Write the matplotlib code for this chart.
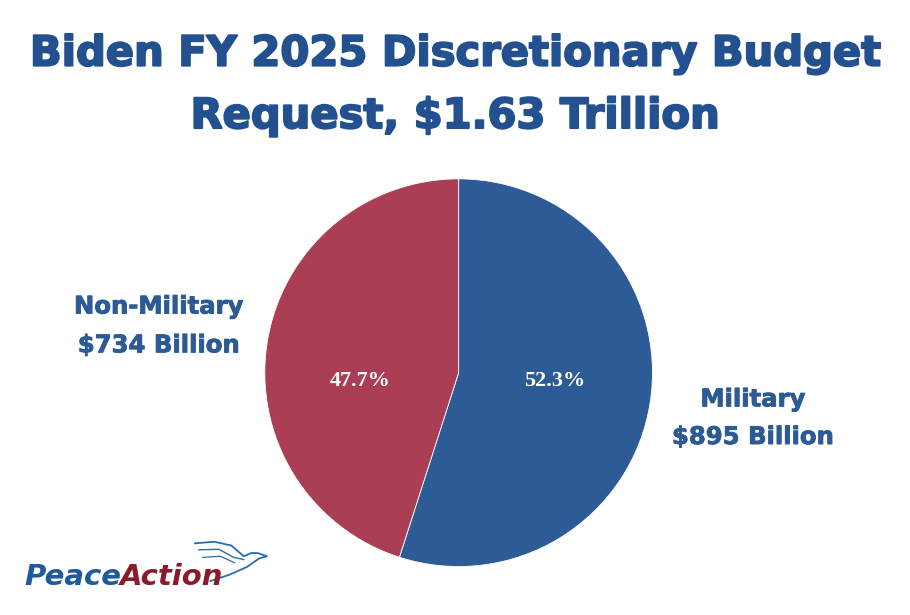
import matplotlib.pyplot as plt
import matplotlib.patheffects as pe

# data
segments = ['Military', 'Non-Military']
amounts = [895, 734]  # billions
pct_labels = ['52.3%', '47.7%']
seg_colors = ['#2D5B96', '#AA3E55']
title = 'Biden FY 2025 Discretionary Budget\nRequest, $1.63 Trillion'

navy = '#23508F'
thick = [pe.withStroke(linewidth=1.4, foreground=navy)]

fig = plt.figure(figsize=(9.1, 6.15), dpi=100)
fig.patch.set_facecolor('white')

fig.text(0.5, 0.862, title, ha='center', va='center', fontsize=30,
         fontweight='bold', family='DejaVu Sans', color=navy, linespacing=1.62,
         path_effects=thick)

ax = fig.add_axes([0.504 - 0.213, 0.394 - 0.3155, 0.426, 0.631])
wedges, texts = ax.pie(amounts, colors=seg_colors, startangle=90,
                       counterclock=False,
                       wedgeprops=dict(edgecolor='white', linewidth=0.6))
ax.set_xlim(-1, 1)
ax.set_ylim(-1, 1)
ax.set_aspect('equal')

ax.text(0.495, -0.045, pct_labels[0], ha='center', va='center', color='white',
        fontsize=16, family='Liberation Serif', fontweight='bold')
ax.text(-0.51, -0.045, pct_labels[1], ha='center', va='center', color='white',
        fontsize=16, family='Liberation Serif', fontweight='bold')

lab_fx = [pe.withStroke(linewidth=0.6, foreground='#2C5A94')]
fig.text(0.174, 0.470, 'Non-Military\n$734 Billion', ha='center', va='center',
         fontsize=17.5, fontweight='bold', family='DejaVu Sans', color='#2C5A94',
         linespacing=1.78, path_effects=lab_fx)
fig.text(0.827, 0.320, 'Military\n$895 Billion', ha='center', va='center',
         fontsize=17.5, fontweight='bold', family='DejaVu Sans', color='#2C5A94',
         linespacing=1.72, path_effects=lab_fx)

# logo
t1 = fig.text(0.027, 0.061, 'Peace', ha='left', va='center', fontsize=21,
              fontweight='bold', style='italic', family='DejaVu Sans', color='#1F5A9A')
r = fig.canvas.get_renderer()
bb = t1.get_window_extent(renderer=r)
fig.text(bb.x1 / fig.bbox.width - 0.002, 0.061, 'Action', ha='left', va='center',
         fontsize=21, fontweight='bold', style='italic', family='DejaVu Sans',
         color='#8B1A2B')
lax = fig.add_axes([0.21, 0.05, 0.085, 0.07])
lax.set_xlim(0, 10)
lax.set_ylim(0, 8)
lax.axis('off')
lax.plot([0.5, 3.0, 5.2, 6.8, 7.8, 8.6, 9.8, 8.8, 7.2, 5.0, 2.5],
         [7.6, 7.9, 7.2, 5.2, 5.8, 5.8, 5.2, 4.8, 3.2, 1.8, 0.6],
         color='#2A6DB0', lw=1.3)
lax.plot([1.0, 3.6, 5.5, 6.8], [6.4, 6.5, 5.0, 4.6], color='#2A6DB0', lw=1.0)
lax.plot([1.5, 3.8, 5.6], [5.0, 5.2, 4.0], color='#2A6DB0', lw=0.9)

fig.savefig('out.png', dpi=100, facecolor='white')
